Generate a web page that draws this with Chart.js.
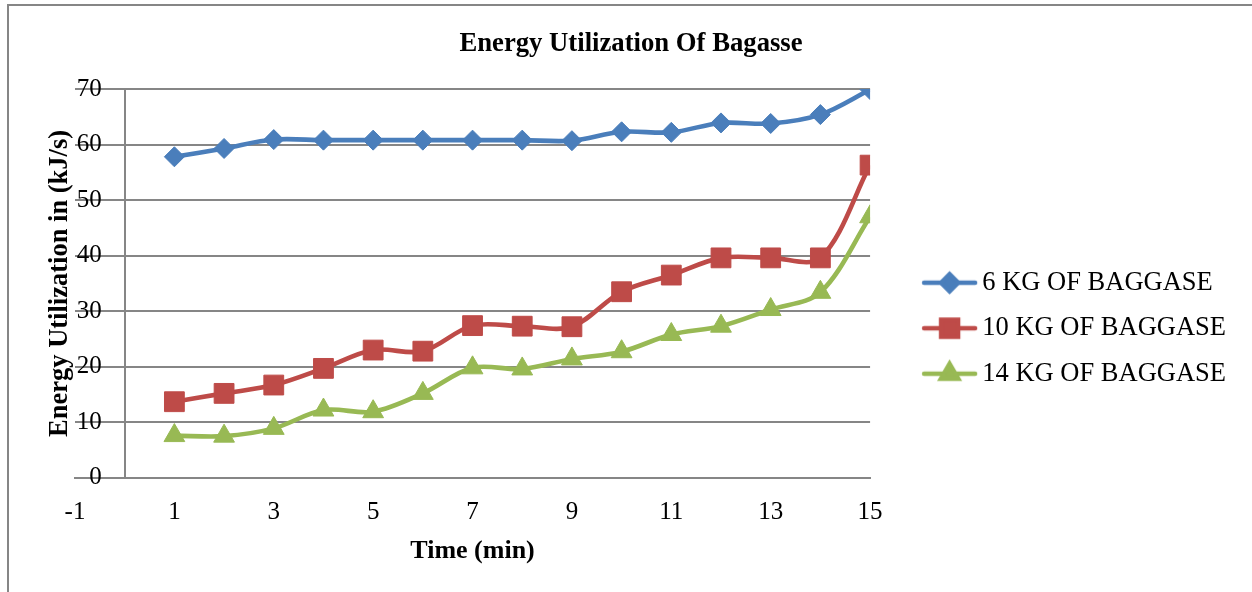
<!DOCTYPE html>
<html>
<head>
<meta charset="utf-8">
<title>Energy Utilization Of Bagasse</title>
<script src="https://cdn.jsdelivr.net/npm/chart.js@4.4.1/dist/chart.umd.min.js"></script>
<style>
  html, body { margin: 0; padding: 0; background: #ffffff; }
  #wrap { width: 1252px; height: 592px; }
  canvas { display: block; }
</style>
</head>
<body>
<div id="wrap"><canvas id="chart" width="1252" height="592"></canvas></div>
<script>
// Time steps (min) and energy utilization (kJ/s) for each bagasse load
const timeMin = [1, 2, 3, 4, 5, 6, 7, 8, 9, 10, 11, 12, 13, 14, 15];
const kg6  = [57.8, 59.3, 60.9, 60.8, 60.8, 60.8, 60.8, 60.8, 60.7, 62.3, 62.2, 63.9, 63.8, 65.4, 69.9];
const kg10 = [13.7, 15.2, 16.7, 19.7, 23.0, 22.8, 27.4, 27.3, 27.2, 33.5, 36.5, 39.6, 39.6, 39.6, 56.3];
const kg14 = [7.6, 7.5, 8.9, 12.2, 11.9, 15.2, 19.8, 19.6, 21.4, 22.7, 25.8, 27.3, 30.3, 33.4, 47.0];
const seriesNames = ['6 KG OF BAGGASE', '10 KG OF BAGGASE', '14 KG OF BAGGASE'];
const xTicks = [-1, 1, 3, 5, 7, 9, 11, 13, 15];
const yTicks = [0, 10, 20, 30, 40, 50, 60, 70];

const SERIF = "'Liberation Serif', 'Times New Roman', serif";
const GRID = '#868686';
Chart.defaults.font.family = SERIF;
Chart.defaults.color = '#000000';

const toPoints = (vals) => vals.map((v, i) => ({ x: timeMin[i], y: v }));

const seriesStyle = [
  { color: '#4A7EBB', pointStyle: 'rectRot', radius: 10, legendRadius: 8.5 },
  { color: '#BE4B48', pointStyle: 'rect', radius: 14, legendRadius: 12 },
  { color: '#98B954', pointStyle: 'triangle', radius: 12, legendRadius: 10 }
];

// Legend key: a short line with the series marker on it
function makeKey(style) {
  const c = document.createElement('canvas');
  c.width = 100; c.height = 30;
  const g = c.getContext('2d');
  g.strokeStyle = style.color;
  g.fillStyle = style.color;
  g.lineWidth = 4.5;
  g.lineCap = 'round';
  g.beginPath();
  g.moveTo(45, 15);
  g.lineTo(96, 15);
  g.stroke();
  Chart.helpers.drawPoint(g, { pointStyle: style.pointStyle, radius: style.legendRadius, rotation: 0, borderWidth: 1 }, 70.5, 15);
  return c;
}
const legendKeys = seriesStyle.map(makeKey);

const datasets = [kg6, kg10, kg14].map((vals, i) => ({
  label: seriesNames[i],
  data: toPoints(vals),
  xAxisID: 'x',
  yAxisID: 'y',
  borderColor: seriesStyle[i].color,
  backgroundColor: seriesStyle[i].color,
  borderWidth: 4.6,
  tension: 0.33,
  pointStyle: seriesStyle[i].pointStyle,
  pointRadius: seriesStyle[i].radius,
  pointHoverRadius: seriesStyle[i].radius,
  pointBackgroundColor: seriesStyle[i].color,
  pointBorderColor: seriesStyle[i].color,
  pointBorderWidth: 1
}));

// White page with the frame lines along the top and left edges
const framePlugin = {
  id: 'frame',
  beforeDraw(chart) {
    const ctx = chart.ctx;
    ctx.save();
    ctx.fillStyle = '#ffffff';
    ctx.fillRect(0, 0, chart.width, chart.height);
    ctx.strokeStyle = GRID;
    ctx.lineWidth = 2;
    ctx.beginPath();
    ctx.moveTo(8, chart.height);
    ctx.lineTo(8, 5);
    ctx.lineTo(chart.width, 5);
    ctx.stroke();
    ctx.restore();
  }
};

const tickFont = { size: 25, family: SERIF };

new Chart(document.getElementById('chart'), {
  type: 'line',
  data: { datasets },
  plugins: [framePlugin],
  options: {
    responsive: false,
    animation: false,
    events: [],
    layout: { padding: { left: 26, right: 16, top: 0, bottom: 25 } },
    plugins: {
      title: {
        display: true,
        text: 'Energy Utilization Of Bagasse',
        font: { size: 26.7, weight: 'bold', family: SERIF },
        color: '#000000',
        padding: { top: 28, bottom: 29 }
      },
      legend: {
        position: 'right',
        maxWidth: 420,
        title: { display: true, text: '', padding: { top: 75, bottom: 0 } },
        labels: {
          usePointStyle: true,
          pointStyleWidth: 80,
          padding: 19,
          font: { size: 26.5, family: SERIF },
          color: '#000000',
          generateLabels(chart) {
            const items = Chart.defaults.plugins.legend.labels.generateLabels(chart);
            items.forEach((it) => { it.pointStyle = legendKeys[it.datasetIndex]; it.lineWidth = 0; });
            return items;
          }
        }
      },
      tooltip: { enabled: false }
    },
    scales: {
      x: {
        type: 'linear',
        position: 'bottom',
        min: -1,
        max: 15,
        afterBuildTicks(scale) { scale.ticks = xTicks.map(v => ({ value: v })); },
        grid: { display: false, drawTicks: false },
        border: { display: true, color: GRID, width: 2 },
        ticks: { padding: 20, font: tickFont, color: '#000000', maxRotation: 0 },
        title: {
          display: true,
          text: 'Time (min)',
          font: { size: 26, weight: 'bold', family: SERIF },
          color: '#000000',
          padding: { top: -12, bottom: 0 }
        }
      },
      // value axis crossing at time 0: gridlines and axis line
      y: {
        type: 'linear',
        axis: 'y',
        position: { x: 0 },
        min: 0,
        max: 70,
        afterBuildTicks(scale) { scale.ticks = yTicks.map(v => ({ value: v })); },
        grid: { color: GRID, lineWidth: 2, drawTicks: false },
        border: { display: true, color: GRID, width: 2 },
        ticks: { display: false }
      },
      // value axis labels, set just left of the crossing
      yLabels: {
        type: 'linear',
        axis: 'y',
        position: { x: -0.46 },
        min: 0,
        max: 70,
        afterBuildTicks(scale) { scale.ticks = yTicks.map(v => ({ value: v })); },
        grid: { display: false, drawTicks: false },
        border: { display: false },
        ticks: { font: tickFont, color: '#000000' }
      },
      yTitle: {
        type: 'linear',
        axis: 'y',
        position: 'left',
        display: true,
        grid: { display: false, drawTicks: false },
        border: { display: false },
        ticks: { display: false },
        title: {
          display: true,
          text: 'Energy Utilization in (kJ/s)',
          font: { size: 26.5, weight: 'bold', family: SERIF },
          color: '#000000',
          padding: { top: 18, bottom: 0 }
        },
        afterFit(scale) { scale.width = 49; }
      }
    }
  }
});
</script>
</body>
</html>
